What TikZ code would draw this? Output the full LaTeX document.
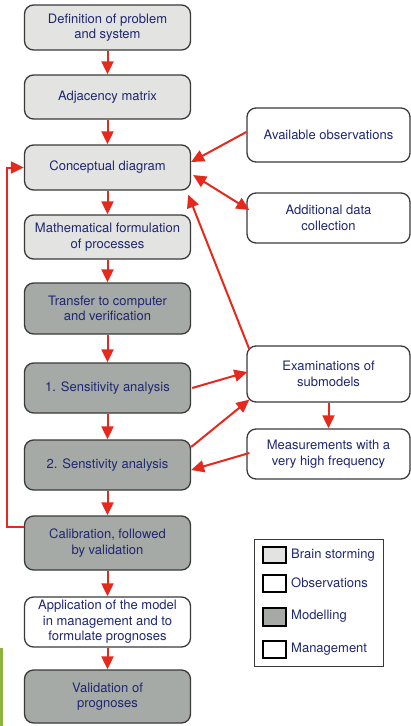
\documentclass[tikz,border=0pt]{standalone}
\usepackage{fontspec}
\setmainfont{TeX Gyre Heros}
\usepackage{tikz}
\usetikzlibrary{shapes.geometric, arrows.meta, positioning, calc}
\definecolor{flowred}{HTML}{E5291C}
\definecolor{flowtext}{HTML}{1F2770}
\definecolor{flowlight}{HTML}{E3E3E1}
\definecolor{flowdark}{HTML}{A6AAA6}
\definecolor{flowedge}{HTML}{3A3A3A}
\definecolor{flowgreen}{HTML}{8CB43C}

\begin{document}
\begin{tikzpicture}[
    x=1pt, y=1pt,
    >={Triangle[length=13pt,width=12pt]},
    flow/.style={draw=flowred, line width=2pt},
    box/.style={rectangle, rounded corners=9pt, draw=flowedge, line width=1.3pt, text=flowtext, align=center, inner sep=2pt, font=\fontsize{13}{15.5}\selectfont},
    brainstorm/.style={box, fill=flowlight, minimum width=166pt, minimum height=45pt},
    modelling/.style={box, fill=flowdark, minimum width=166pt, minimum height=50pt},
    observation/.style={box, fill=white, minimum width=163pt, minimum height=50pt},
    management/.style={box, fill=white, minimum width=166pt, minimum height=50pt},
    swatch/.style={rectangle, draw=black, line width=2pt, minimum width=23pt, minimum height=16pt, inner sep=0pt},
    legendtext/.style={anchor=west, text=flowtext, inner sep=0pt, font=\fontsize{13}{15.5}\selectfont}
]
\useasboundingbox (0,0) rectangle (411,-726);
\fill[flowgreen] (0,-648) rectangle (3,-726);

% Left column
\node[brainstorm] (definition) at (107.5,-27.5) {Definition of problem\\and system};
\node[brainstorm, minimum height=44pt] (adjacency) at (107.5,-97) {Adjacency matrix};
\node[brainstorm] (concept) at (107.5,-167.5) {Conceptual diagram};
\node[brainstorm, minimum height=44pt] (mathform) at (107.5,-237) {Mathematical formulation\\of processes};
\node[modelling, minimum height=51pt] (transfer) at (107.5,-308.5) {Transfer to computer\\and verification};
\node[modelling] (sens1) at (107.5,-388) {1. Sensitivity analysis};
\node[modelling] (sens2) at (107.5,-465) {2. Senstivity analysis};
\node[modelling, minimum height=54pt] (calib) at (107.5,-543) {Calibration, followed\\by validation};
\node[management] (apply) at (107.5,-622) {Application of the model\\in management and to\\formulate prognoses};
\node[modelling, minimum height=53pt] (validate) at (107.5,-696.5) {Validation of\\prognoses};

% Right column
\node[observation, minimum height=54pt] (avail) at (328.5,-135) {Available observations};
\node[observation] (extra) at (328.5,-218) {Additional data\\collection};
\node[observation, minimum height=56pt] (exam) at (328.5,-374) {Examinations of\\submodels};
\node[observation] (measure) at (328.5,-454) {Measurements with a\\very high frequency};

% Legend
\node[draw=flowedge, line width=0.8pt, minimum width=129pt, minimum height=127pt, inner sep=0pt] (legend) at (318.5,-602.5) {};
\node[swatch, fill=flowlight] (keybrain) at (274,-555) {};
\node[swatch, fill=white, minimum height=17pt] (keyobs) at (274,-583) {};
\node[swatch, fill=flowdark, minimum height=18pt] (keymodel) at (274,-616.5) {};
\node[swatch, fill=white, minimum height=17pt] (keymanage) at (274,-649.5) {};
\node[legendtext] (labbrain) at (291,-555) {Brain storming};
\node[legendtext] (labobs) at (291,-583) {Observations};
\node[legendtext] (labmodel) at (291,-616.5) {Modelling};
\node[legendtext] (labmanage) at (291,-649.5) {Management};

% Connections
\draw[flow, ->] (definition) -- (adjacency);
\draw[flow, ->] (adjacency) -- (concept);
\draw[flow, ->] (concept) -- (mathform);
\draw[flow, ->] (mathform) -- (transfer);
\draw[flow, ->] (transfer) -- (sens1);
\draw[flow, ->] (sens1) -- (sens2);
\draw[flow, ->] (sens2) -- (calib);
\draw[flow, ->] (calib) -- (apply);
\draw[flow, ->] (apply) -- (validate);

\draw[flow, ->] ([yshift=16pt]calib.west) -- ++(-17,0) |- (concept.west);

\draw[flow, ->] ([yshift=3pt]avail.west) -- ([yshift=5.5pt]concept.east);
\draw[flow, <->] ([xshift=2pt,yshift=-7.5pt]concept.east) -- ([xshift=3pt,yshift=8pt]extra.west);
\draw[flow, ->] ([xshift=3pt,yshift=-4pt]exam.north west) -- ([xshift=-3pt,yshift=-4pt]concept.south east);

\draw[flow, ->] ([xshift=1pt]sens1.east) -- ([xshift=1pt,yshift=2pt]exam.west);
\draw[flow, ->] ([yshift=18pt]sens2.east) -- ([xshift=3pt,yshift=3pt]exam.south west);
\draw[flow, ->] ([xshift=3pt,yshift=1pt]measure.west) -- ([yshift=-5pt]sens2.east);
\draw[flow, ->] (exam) -- (measure);

\end{tikzpicture}
\end{document}
